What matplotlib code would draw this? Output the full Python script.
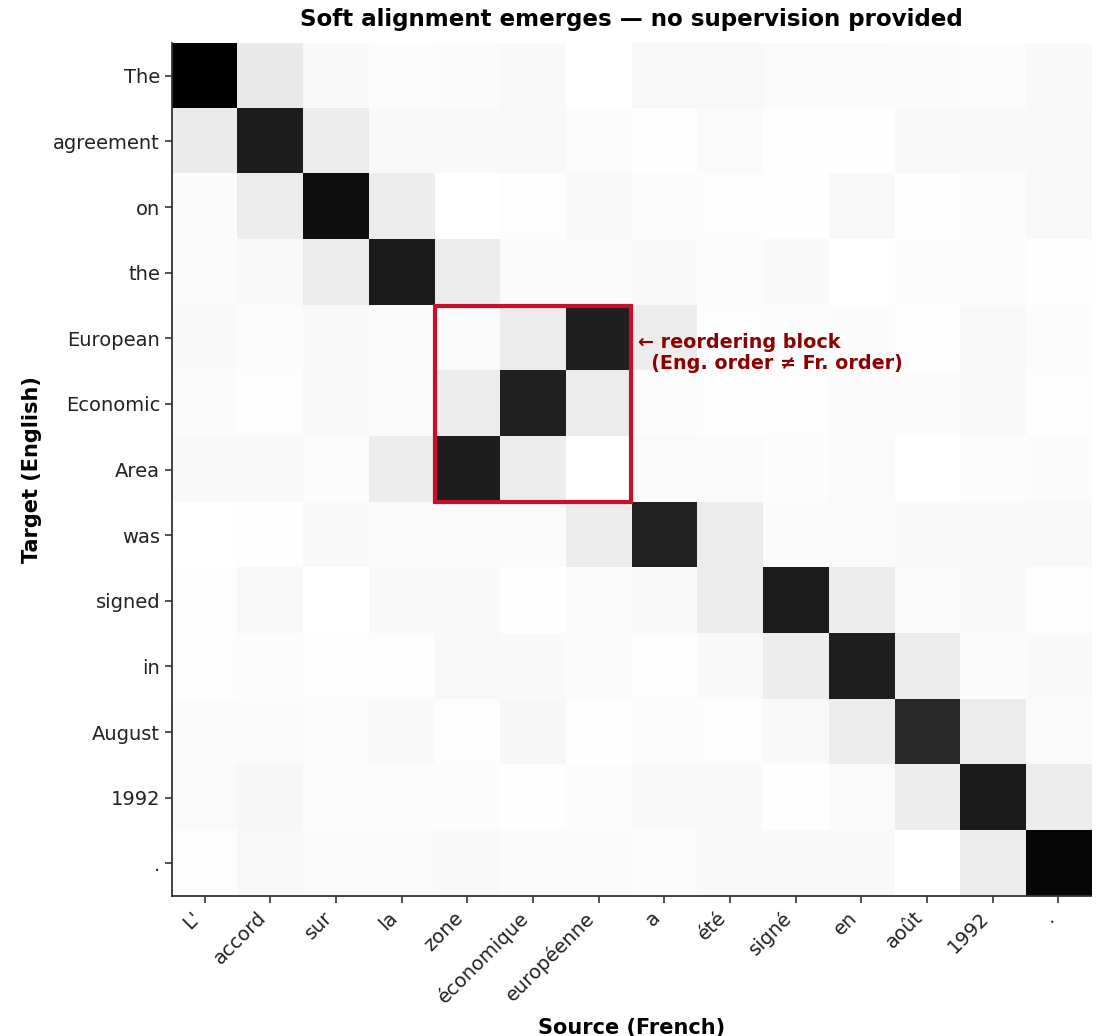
import numpy as np
import matplotlib
matplotlib.use('Agg')
import matplotlib.pyplot as plt
from matplotlib.colors import LinearSegmentedColormap
from matplotlib.patches import Rectangle

src = ["L'", 'accord', 'sur', 'la', 'zone', 'économique', 'européenne',
       'a', 'été', 'signé', 'en', 'août', '1992', '.']
tgt = ['The', 'agreement', 'on', 'the', 'European', 'Economic', 'Area',
       'was', 'signed', 'in', 'August', '1992', '.']

# attention weights, one row per target word
w_the = [1.000, 0.086, 0.027, 0.012, 0.016, 0.027, 0.000, 0.031, 0.031, 0.020, 0.020, 0.016, 0.012, 0.024]
w_agreement = [0.082, 0.890, 0.075, 0.024, 0.024, 0.031, 0.012, 0.004, 0.020, 0.004, 0.004, 0.024, 0.024, 0.031]
w_on = [0.016, 0.078, 0.945, 0.075, 0.000, 0.008, 0.027, 0.012, 0.008, 0.004, 0.031, 0.004, 0.012, 0.031]
w_the2 = [0.016, 0.027, 0.078, 0.894, 0.075, 0.016, 0.016, 0.027, 0.012, 0.024, 0.000, 0.012, 0.012, 0.004]
w_european = [0.024, 0.012, 0.027, 0.020, 0.020, 0.075, 0.875, 0.075, 0.008, 0.012, 0.016, 0.004, 0.031, 0.012]
w_economic = [0.016, 0.008, 0.024, 0.016, 0.078, 0.870, 0.078, 0.012, 0.008, 0.008, 0.016, 0.016, 0.024, 0.008]
w_area = [0.027, 0.024, 0.012, 0.078, 0.886, 0.075, 0.000, 0.020, 0.020, 0.012, 0.020, 0.000, 0.012, 0.016]
w_was = [0.000, 0.004, 0.027, 0.020, 0.016, 0.016, 0.075, 0.867, 0.078, 0.016, 0.016, 0.024, 0.027, 0.031]
w_signed = [0.008, 0.031, 0.000, 0.027, 0.027, 0.004, 0.016, 0.024, 0.075, 0.890, 0.075, 0.016, 0.024, 0.008]
w_in = [0.008, 0.012, 0.008, 0.008, 0.031, 0.024, 0.016, 0.008, 0.024, 0.075, 0.880, 0.078, 0.016, 0.027]
w_august = [0.016, 0.016, 0.012, 0.027, 0.008, 0.035, 0.004, 0.012, 0.008, 0.027, 0.078, 0.840, 0.075, 0.020]
w_1992 = [0.020, 0.035, 0.012, 0.012, 0.012, 0.004, 0.012, 0.027, 0.027, 0.004, 0.020, 0.075, 0.894, 0.075]
w_dot = [0.008, 0.031, 0.016, 0.020, 0.024, 0.016, 0.016, 0.012, 0.024, 0.024, 0.024, 0.000, 0.078, 0.976]

attn = np.array([w_the, w_agreement, w_on, w_the2, w_european, w_economic, w_area,
                 w_was, w_signed, w_in, w_august, w_1992, w_dot])

cmap = LinearSegmentedColormap.from_list('wb', ['#ffffff', '#000000'])

fig = plt.figure(figsize=(11.02, 10.36), dpi=100)
ax = fig.add_axes([0.156, 0.135, 0.834, 0.8235])
ax.imshow(attn, cmap=cmap, vmin=0, vmax=1, aspect='auto', interpolation='nearest')

ax.set_xticks(range(len(src)))
ax.set_xticklabels(src, rotation=45, ha='right', fontsize=14, color='#222222')
ax.set_yticks(range(len(tgt)))
ax.set_yticklabels(tgt, fontsize=14, color='#222222')
ax.tick_params(length=5, width=1.2, color='#333333')
for s in ['top', 'right']:
    ax.spines[s].set_visible(False)
for s in ['left', 'bottom']:
    ax.spines[s].set_linewidth(1.3)
    ax.spines[s].set_color('#333333')

# reordering block
ax.add_patch(Rectangle((3.5, 3.5), 3, 3, fill=False, edgecolor='#c8102e', linewidth=3, zorder=5, clip_on=False))
ax.text(6.6, 4.22, '\u2190 reordering block\n  (Eng. order \u2260 Fr. order)', color='#8b0000',
        fontsize=13.8, fontweight='bold', ha='left', va='center', linespacing=1.15)

ax.set_xlabel('Source (French)', fontsize=15, fontweight='bold', labelpad=8)
ax.set_ylabel('Target (English)', fontsize=15, fontweight='bold', labelpad=8)
ax.set_title('Soft alignment emerges \u2014 no supervision provided', fontsize=16.6, fontweight='bold', pad=12)

fig.savefig('out.png', dpi=100)
